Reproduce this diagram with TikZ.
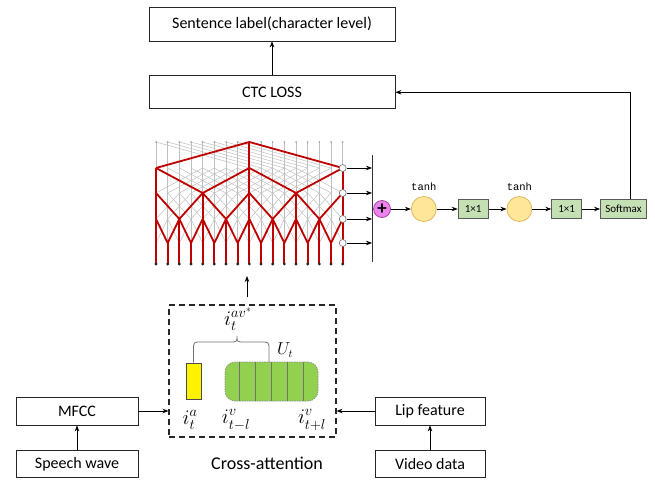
\documentclass[tikz,border=0pt]{standalone}
\usepackage{amsmath}
\usepackage{fontspec}
\setmainfont{Carlito}
\newfontfamily\codefont{Liberation Mono}
\usepackage{xcolor}
\usetikzlibrary{arrows.meta, positioning, calc}

\definecolor{netred}{HTML}{C00000}
\definecolor{gridgray}{HTML}{BFBFBF}
\definecolor{convfill}{HTML}{C5E0B4}
\definecolor{actfill}{HTML}{FFE699}
\definecolor{actdraw}{HTML}{E0B860}
\definecolor{plusfill}{HTML}{EE82EE}
\definecolor{plusdraw}{HTML}{9E4A9E}
\definecolor{vidgreen}{HTML}{92D050}

\tikzset{
    block/.style={
        rectangle,
        draw=black!85,
        line width=0.8pt,
        fill=white,
        inner sep=0pt,
        font=\fontsize{16}{19}\selectfont
    },
    attbox/.style={
        rectangle,
        draw=black!85,
        line width=1.1pt,
        dash pattern=on 6pt off 4pt,
        minimum width=167pt,
        minimum height=132pt
    },
    sumnode/.style={
        circle,
        draw=plusdraw,
        fill=plusfill,
        line width=0.8pt,
        minimum size=17pt,
        inner sep=0pt,
        font=\bfseries\fontsize{19}{19}\selectfont
    },
    actnode/.style={
        circle,
        draw=actdraw,
        fill=actfill,
        line width=0.8pt,
        minimum size=25pt,
        inner sep=0pt
    },
    convbox/.style={
        rectangle,
        draw=black!65,
        fill=convfill,
        line width=0.8pt,
        minimum width=30pt,
        minimum height=19pt,
        inner sep=0pt,
        font=\fontsize{11}{12}\selectfont
    },
    actlabel/.style={
        font=\codefont\fontsize{10.5}{12}\selectfont,
        inner sep=1pt
    },
    outnode/.style={
        circle,
        draw=black!55,
        fill=white,
        line width=0.6pt,
        minimum size=7pt,
        inner sep=0pt
    },
    audbox/.style={
        rectangle,
        draw=black!70,
        fill=yellow,
        line width=0.7pt,
        minimum width=15pt,
        minimum height=36pt
    },
    vidbox/.style={
        rectangle,
        rounded corners=10pt,
        draw=black!45,
        dash pattern=on 1.5pt off 1pt,
        fill=vidgreen,
        line width=0.6pt,
        minimum width=93pt,
        minimum height=39pt
    },
    symlabel/.style={
        inner sep=0pt,
        font=\fontsize{22}{24}\selectfont
    },
    wire/.style={
        draw=black,
        line width=0.7pt,
        -{Stealth[length=6pt,width=4.5pt]}
    },
    redpath/.style={
        draw=netred,
        line width=1.8pt,
        line join=round
    },
    gridline/.style={
        draw=gridgray,
        line width=0.5pt
    }
}

\begin{document}
\begin{tikzpicture}[x=1pt, y=-1pt]
\useasboundingbox (0,0) rectangle (655,479);

% Loss and label
\node[block, minimum width=246pt, minimum height=34pt] (label) at (272,24) {Sentence label(character level)};
\node[block, minimum width=246pt, minimum height=33pt, below=34pt of label] (ctc) {CTC LOSS};
\draw[wire] (ctc) -- (label);

% Lattice points of the dilated network
\foreach \l/\y in {0/264,1/243,2/219,3/193,4/168,5/142}
  \foreach \i in {0,...,16}
    \coordinate (n\l-\i) at ({156+11.67*\i},\y);

% all connections in gray
\foreach \i in {0,...,16}
  \draw[gridline] (n0-\i) -- (n5-\i);
\foreach \l/\d in {1/1,2/2,3/4} {
  \pgfmathtruncatemacro\u{\l+1}
  \pgfmathtruncatemacro\m{16-\d}
  \foreach \i in {0,...,\m} {
    \pgfmathtruncatemacro\k{\i+\d}
    \draw[gridline] (n\l-\i) -- (n\u-\k) (n\u-\i) -- (n\l-\k);
  }
}
\foreach \i in {0,...,8} {
  \pgfmathtruncatemacro\k{\i+8}
  \draw[gridline] (n5-\i) -- (n4-\k);
}
\foreach \i in {0,...,16}
  \fill[black!35] (n5-\i) circle (1pt);

% active paths in red
\foreach \i/\t in {0/4,1/1,2/2,3/1,4/3,5/1,6/2,7/1,8/5,9/1,10/2,11/1,12/3,13/1,14/2,15/1,16/4}
  \draw[redpath] (n0-\i) -- (n\t-\i);
\foreach \i in {1,3,...,15} {
  \pgfmathtruncatemacro\a{\i-1}
  \pgfmathtruncatemacro\b{\i+1}
  \draw[redpath] (n2-\a) -- (n1-\i) -- (n2-\b);
}
\foreach \i in {2,6,10,14} {
  \pgfmathtruncatemacro\a{\i-2}
  \pgfmathtruncatemacro\b{\i+2}
  \draw[redpath] (n3-\a) -- (n2-\i) -- (n3-\b);
}
\foreach \i in {4,12} {
  \pgfmathtruncatemacro\a{\i-4}
  \pgfmathtruncatemacro\b{\i+4}
  \draw[redpath] (n4-\a) -- (n3-\i) -- (n4-\b);
}
\draw[redpath] (n4-0) -- (n5-8) -- (n4-16);
\foreach \i in {0,...,16}
  \fill[black!85] (n0-\i) circle (1.6pt);

% Skip outputs
\coordinate (bartop) at (372,155);
\coordinate (barbot) at (372,262);
\draw[line width=0.8pt, black!80] (bartop) -- (barbot);
\foreach \l in {1,...,4} {
  \node[outnode] (tap\l) at (n\l-16) {};
  \draw[wire] (tap\l.east) -- (tap\l.east -| bartop);
}

% Output head
\node[sumnode] (sum) at (382,209) {+};
\node[actnode, right=20pt of sum] (act1) {};
\node[actlabel, above=4pt of act1] (tanh1) {tanh};
\node[convbox, right=21pt of act1] (conv1) {1×1};
\node[actnode, right=18pt of conv1] (act2) {};
\node[actlabel, above=4pt of act2] (tanh2) {tanh};
\node[convbox, right=19pt of act2] (conv2) {1×1};
\node[convbox, minimum width=46pt, right=18pt of conv2] (soft) {Softmax};

\draw[wire] (sum) -- (act1);
\draw[wire] (act1) -- (conv1);
\draw[wire] (conv1) -- (act2);
\draw[wire] (act2) -- (conv2);
\draw[wire] (conv2) -- (soft);
\draw[wire] ([xshift=7pt]soft.north) |- (ctc.east);

% Cross-attention block
\node[attbox] (att) at (252.5,371) {};
\node[audbox] (aud) at (193.5,381) {};
\node[vidbox] (vid) at (271.5,381.5) {};
\foreach \x in {239,255,271,287,303}
  \draw[black!55, line width=0.6pt] (\x,362) -- (\x,401);
\draw[black!55, line width=0.8pt] (aud.north) -- (193.5,350)
  .. controls (193.5,342) .. (201,342) -- (229,342)
  .. controls (237,342) .. (237,336)
  .. controls (237,342) .. (245,342) -- (261,342)
  .. controls (269,342) .. (269,350) -- (269,362);

\node[symlabel, font=\fontsize{20}{22}\selectfont] (iav) at (238,319) {$i_t^{av^*}$};
\node[symlabel, font=\fontsize{16}{18}\selectfont] (ut) at (285,350) {$U_t$};
\node[symlabel] (ia) at (190,420) {$i_t^a$};
\node[symlabel] (ivl) at (236,420) {$i_{t-l}^v$};
\node[symlabel] (ivr) at (312,420) {$i_{t+l}^v$};
\node[font=\fontsize{18}{20}\selectfont] (attname) at (267,463) {Cross-attention};

\coordinate (netin) at (247,276);
\draw[wire, shorten <=7pt] (att.north -| netin) -- (netin);

% Inputs
\node[block, minimum width=122pt, minimum height=28pt] (mfcc) at (77,411) {MFCC};
\node[block, minimum width=122pt, minimum height=27pt, below=25pt of mfcc] (speech) {Speech wave};
\node[block, minimum width=110pt, minimum height=28pt] (lip) at (430,411) {Lip feature};
\node[block, minimum width=110pt, minimum height=27pt, below=25pt of lip] (video) {Video data};

\draw[wire] (speech) -- (mfcc);
\draw[wire] (video) -- (lip);
\draw[wire] (mfcc.east) -- (mfcc.east -| att.west);
\draw[wire] (lip.west) -- (lip.west -| att.east);

\end{tikzpicture}
\end{document}
